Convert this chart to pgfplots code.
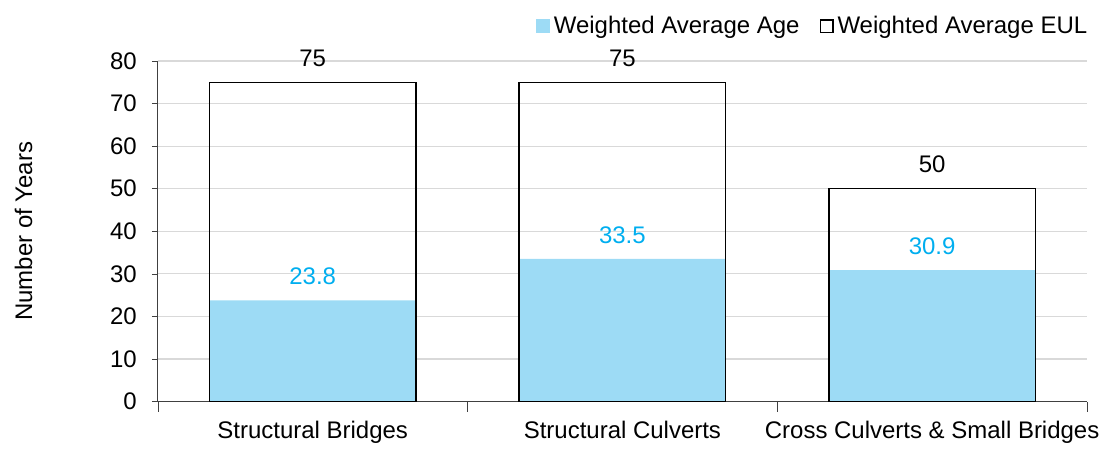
\documentclass[border=0pt]{standalone}
\usepackage{pgfplots}
\pgfplotsset{compat=1.18}
\usepackage{fontspec}
\setmainfont{Liberation Sans}
\definecolor{agefill}{HTML}{9DDBF5}
\definecolor{agetext}{HTML}{00AEEF}
\definecolor{gridc}{HTML}{D9D9D9}
\definecolor{axc}{HTML}{404040}
\begin{document}
\begin{tikzpicture}
\begin{axis}[
  name=ax,
  scale only axis,
  width=465pt, height=170.5pt,
  xmin=-0.5, xmax=2.5,
  ymin=0, ymax=80,
  ytick={0,10,...,80},
  xtick={0,1,2},
  xticklabels={Structural Bridges, Structural Culverts, Cross Culverts \& Small Bridges},
  major x tick style={draw=none},
  extra x ticks={-0.5,0.5,1.5,2.5},
  extra x tick labels={},
  extra x tick style={major tick length=5pt, tick style={draw=axc}, tick align=outside, grid=none, major x tick style={draw=axc}},
  tick align=outside,
  major tick length=3pt,
  ymajorgrids,
  grid style={gridc, line width=0.6pt},
  axis x line*=bottom,
  axis y line*=left,
  axis line style={axc, line width=0.6pt},
  y tick style={axc},
  tick label style={font=\fontsize{12}{14}\selectfont},
  /pgf/number format/assume math mode=true,
  xticklabel style={yshift=-3pt},
  yticklabel style={xshift=-4pt},
  ylabel={Number of Years},
  ylabel style={font=\fontsize{12}{14}\selectfont},
  ylabel shift=32pt,
  ybar, bar width=0.667,
  legend columns=2,
  legend style={draw=none, at={(1.005,1)}, anchor=south east, yshift=10pt,
    font=\fontsize{12}{14}\selectfont, inner sep=0pt,
    /tikz/every even column/.append style={column sep=8pt}},
  nodes near coords,
  every node near coord/.append style={font=\fontsize{12}{14}\selectfont, anchor=center, yshift=12pt},
]
\addplot[bar shift=0pt, fill=agefill, draw=none,
  every node near coord/.append style={text=agetext},
  legend image code/.code={\fill[agefill] (0pt,-3.5pt) rectangle (7pt,3.5pt);},
  /pgf/number format/.cd, fixed, fixed zerofill, precision=1]
  coordinates {(0,23.8) (1,33.5) (2,30.9)};
\addlegendentry{Weighted Average Age}
\addplot[bar shift=0pt, fill=none, draw=black, line width=0.7pt,
  every node near coord/.append style={text=black},
  legend image code/.code={\draw[black, line width=0.6pt] (0.3pt,-3.2pt) rectangle (6.7pt,3.2pt);}]
  coordinates {(0,75) (1,75) (2,50)};
\addlegendentry{Weighted Average EUL}
\end{axis}
\path (ax.south west) ++(-79pt,-20.5pt) rectangle ++(553pt,221.5pt);
\end{tikzpicture}
\end{document}
